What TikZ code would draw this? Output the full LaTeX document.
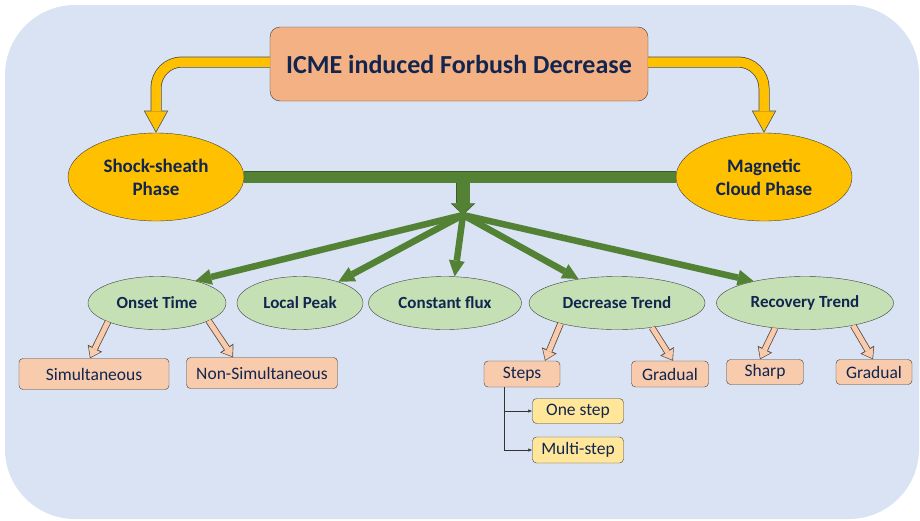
\documentclass[tikz,border=0pt]{standalone}
\usepackage{fontspec}
\setmainfont{Carlito}
\usetikzlibrary{arrows.meta}
\usetikzlibrary{shapes.geometric}
\usetikzlibrary{backgrounds}
\usepackage{xcolor}
\definecolor{bgblue}{HTML}{DAE3F3}
\definecolor{titleorange}{HTML}{F4B183}
\definecolor{gold}{HTML}{FFC000}
\definecolor{grn}{HTML}{548235}
\definecolor{lightgrn}{HTML}{C5E0B4}
\definecolor{peach}{HTML}{F8CBAD}
\definecolor{paleyellow}{HTML}{FFE699}
\definecolor{navy}{HTML}{11254F}
\definecolor{subedge}{HTML}{5E4A3E}

\begin{document}
\begin{tikzpicture}[x=1pt,y=-1pt,
titlebox/.style={draw=black!75, fill=titleorange, rounded corners=10pt, minimum width=378pt, minimum height=74pt, text=navy, font=\bfseries\fontsize{26}{30}\selectfont},
phase/.style={ellipse, draw=black!75, fill=gold, minimum width=176pt, minimum height=88pt, inner sep=0pt, align=center, text=navy, font=\bfseries\fontsize{19}{23}\selectfont},
feature/.style={ellipse, draw=black!75, fill=lightgrn, minimum height=53pt, inner sep=0pt, text=navy, font=\bfseries\fontsize{17}{20}\selectfont},
leaf/.style={draw=black!75, fill=peach, rounded corners=4pt, inner sep=0pt, text=navy, font=\fontsize{17.5}{20}\selectfont},
stepbox/.style={leaf, fill=paleyellow, minimum width=91pt},
yarrow/.style={draw=gold, line width=9.5pt, rounded corners=26pt, shorten >=1.5pt, -{Triangle[width=22pt,length=20pt,line width=0pt]}, preaction={draw=black!70, line width=11pt, shorten >=0pt, -{Triangle[width=24.5pt,length=22.3pt,line width=0pt]}}},
bar/.style={draw=grn, line width=11pt, preaction={draw=grn!70!black, line width=12.4pt}},
stem/.style={draw=grn, line width=13pt, shorten >=1pt, -{Triangle[width=21pt,length=10pt,line width=0pt]}, preaction={draw=grn!70!black, line width=14.4pt, shorten >=0pt, -{Triangle[width=24.6pt,length=11.7pt,line width=0pt]}}},
hubarrow/.style={draw=grn, line width=6.5pt, -{Triangle[width=16pt,length=16pt,line width=0pt]}},
subarrow/.style={draw=peach, line width=5pt, shorten >=1.2pt, -{Triangle[width=13pt,length=9pt,line width=0pt]}, preaction={draw=subedge, line width=6.6pt, shorten >=0pt, -{Triangle[width=16pt,length=11.2pt,line width=0pt]}}},
stepline/.style={draw=black!80, line width=0.6pt, -{Latex[length=4pt,width=3.5pt]}}]
\useasboundingbox (0,0) rectangle (920,520);

\node[titlebox] (icme) at (459,64) {ICME induced Forbush Decrease};
\node[phase] (shock) at (156,177) {Shock-sheath\\Phase};
\node[phase] (cloud) at (764,177) {Magnetic\\Cloud Phase};

\foreach \nm/\x/\w/\txt in {onset/157/138/Onset Time, peak/300/126/Local Peak, flux/445/153/Constant flux, dtrend/617/176/Decrease Trend, rtrend/805/177/Recovery Trend}
  \node[feature, minimum width=\w pt] (\nm) at (\x,303) {\txt};

\node[leaf, minimum width=150pt, minimum height=31pt] (simul) at (94,374) {Simultaneous};
\node[leaf, minimum width=151pt, minimum height=31pt] (nonsimul) at (262,373) {Non-Simultaneous};
\node[leaf, minimum width=76pt, minimum height=26pt] (steps) at (522,374) {Steps};
\node[leaf, minimum width=77pt, minimum height=26pt] (dgrad) at (670,374) {Gradual};
\node[leaf, minimum width=77pt, minimum height=25pt] (sharp) at (765,372) {Sharp};
\node[leaf, minimum width=76pt, minimum height=25pt] (rgrad) at (874,372) {Gradual};
\node[stepbox, minimum height=25pt] (onestep) at (578,411) {One step};
\node[stepbox, minimum height=26pt] (multistep) at (578,450) {Multi-step};

\begin{scope}[on background layer]
\fill[bgblue, rounded corners=70pt] (5,5) rectangle (919,519);
\draw[bar] (shock.east) -- (cloud.west);
\end{scope}

\draw[yarrow] ([yshift=2pt]icme.west) -| (shock.north);
\draw[yarrow] ([yshift=2pt]icme.east) -| (cloud.north);

\coordinate (hub) at (463,215);
\draw[stem] (463,182.5) -- (hub);
\foreach \nm/\a in {onset/30, peak/29, flux/70, dtrend/148, rtrend/157}
  \draw[hubarrow] (hub) -- (\nm.\a);

\foreach \from/\to/\sh in {onset.201/simul/-4, onset.-19/nonsimul/-29, dtrend.200/steps/23, dtrend.-35/dgrad/3, rtrend.220/sharp/-5, rtrend.-25/rgrad/-1}
  \draw[subarrow] (\from) -- ([xshift=\sh pt]\to.north);

\draw[stepline] ([xshift=-18pt]steps.south) |- (onestep.west);
\draw[stepline] ([xshift=-18pt]steps.south) |- (multistep.west);
\end{tikzpicture}
\end{document}
